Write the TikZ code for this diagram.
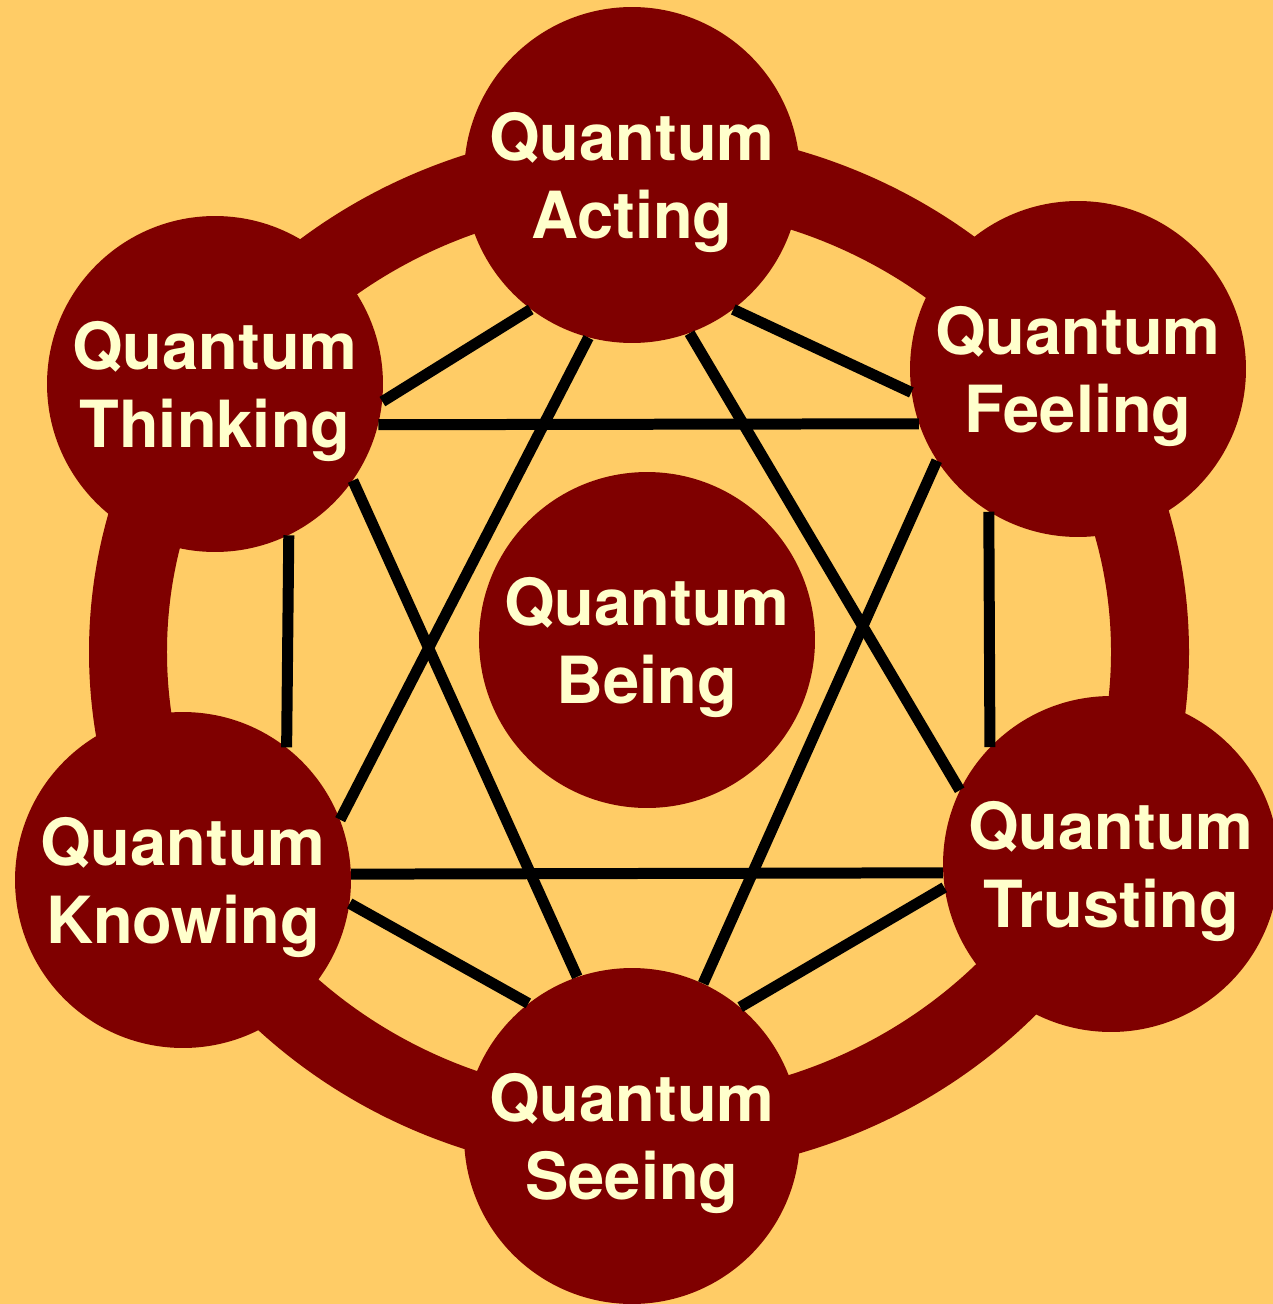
\documentclass[tikz,border=0pt]{standalone}
\usepackage{fontspec}
\setmainfont{TeX Gyre Heros}
\usepackage{tikz}
\definecolor{qsand}{HTML}{FFCC66}
\definecolor{qmaroon}{HTML}{7F0000}
\definecolor{qcream}{HTML}{FFFFCC}
\tikzset{
  sphere/.style={circle, fill=qmaroon, text=qcream, minimum size=6.72cm, inner sep=0pt,
                 align=center, font=\fontsize{37}{44}\selectfont\bfseries,
                 execute at begin node=\rule{0pt}{80pt}},
  link/.style={draw=black, line width=0.22cm},
  band/.style={draw=qmaroon, line width=1.56cm}
}
\begin{document}
\begin{tikzpicture}[x=0.02cm, y=-0.02cm]
  \useasboundingbox (0,0) rectangle (1273,1304);
  \fill[qsand] (0,0) rectangle (1273,1304);
  \draw[band] (639,652) ellipse [x radius=511, y radius=485];

  \node[sphere] (act)   at (632,175)  {Quantum\\Acting};
  \node[sphere] (feel)  at (1078,369) {Quantum\\Feeling};
  \node[sphere] (trust) at (1111,864) {Quantum\\Trusting};
  \node[sphere] (see)   at (632,1136) {Quantum\\Seeing};
  \node[sphere] (know)  at (183,880)  {Quantum\\Knowing};
  \node[sphere] (think) at (215,384)  {Quantum\\Thinking};
  \node[sphere] (being) at (647,640)  {Quantum\\Being};

  % outer hexagon
  \draw[link] (think.-6) -- (act.-127);
  \draw[link] (act.-53) -- (feel.-172.5);
  \draw[link] (feel.-122) -- (trust.136);
  \draw[link] (trust.188) -- (see.50);
  \draw[link] (know.-8) -- (see.128);
  \draw[link] (think.-64.5) -- (know.52);
  % two triangles
  \draw[link] (act.-105) -- (know.21);
  \draw[link] (act.-70) -- (trust.154);
  \draw[link] (know.2.6) -- (trust.183);
  \draw[link] (think.-14) -- (feel.199);
  \draw[link] (think.-35) -- (see.109);
  \draw[link] (feel.-147) -- (see.65);
\end{tikzpicture}
\end{document}
